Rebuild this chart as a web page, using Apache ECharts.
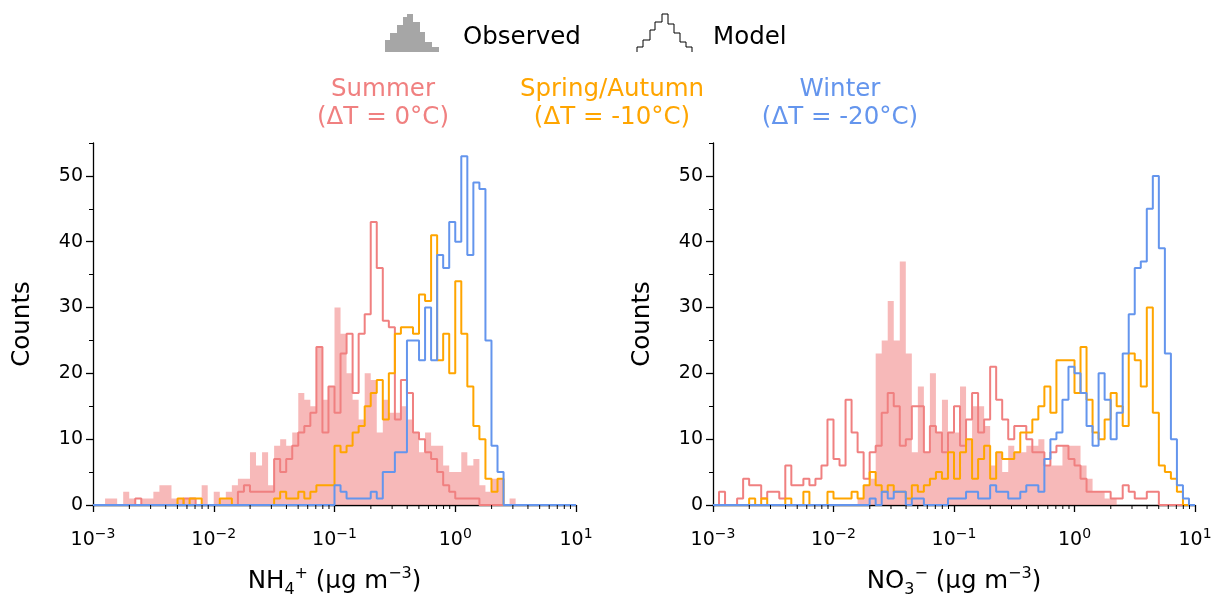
<!DOCTYPE html>
<html><head><meta charset="utf-8">
<script src="https://cdn.jsdelivr.net/npm/echarts@6/dist/echarts.min.js"></script>
<style>html,body{margin:0;padding:0;background:#fff}#c{width:1217px;height:599px}</style>
</head><body><div id="c"></div>
<script>
// ---------- data ----------
const LOG_MIN = -3, LOG_MAX = 1, BIN_WIDTH = 0.05;   // log10 bin grid
const xTickExponents = [-3, -2, -1, 0, 1];
const yTickLabels = [0, 10, 20, 30, 40, 50];
const yMinorTicks = [5, 15, 25, 35, 45, 55];
const seasonNames = ['Summer', 'Spring/Autumn', 'Winter'];
const seasonDeltaT = ['(ΔT = 0°C)', '(ΔT = -10°C)', '(ΔT = -20°C)'];
const legendNames = ['Observed', 'Model'];

const nh4Observed = [0,0,1,1,0,2,1,0,1,1, 2,3,3,1,1,1,1,0,3,0, 2,1,2,3,4,4,8,6,8,3, 9,10,9,11,17,16,15,24,16,18,
  30,26,20,16,13,20,19,11,16,14, 14,15,13,11,8,11,9,9,6,5, 5,8,6,7,3,2,4,4,0,1, 0,0,0,0,0,0,0,0,0,0];
const nh4Summer = [0,0,0,0,0,0,0,1,0,0, 0,0,0,0,0,1,1,0,0,0, 0,0,0,0,2,3,2,2,2,2, 7,5,7,9,11,12,14,24,11,18,
  14,23,26,17,26,29,43,36,28,27, 13,19,17,11,10,8,7,5,3,2, 1,1,1,1,0,0,0,0,0,0, 0,0,0,0,0,0,0,0,0,0];
const nh4Spring = [0,0,0,0,0,0,0,0,0,0, 0,0,0,0,1,0,1,1,0,0, 0,1,1,0,0,0,0,0,0,0, 1,2,1,1,2,1,2,3,3,3,
  9,8,9,11,12,15,17,19,13,20, 26,27,27,26,32,31,41,22,26,20, 34,26,18,12,10,4,2,4,0,0, 0,0,0,0,0,0,0,0,0,0];
const nh4Winter = [0,0,0,0,0,0,0,0,0,0, 0,0,0,0,0,0,0,0,0,0, 0,0,0,0,0,0,0,0,0,0, 0,0,0,0,0,0,0,0,0,0,
  3,2,1,1,1,1,2,1,5,5, 8,8,25,25,22,30,22,38,36,43, 40,53,38,49,48,25,9,5,0,0, 0,0,0,0,0,0,0,0,0,0];

const no3Observed = [0,0,0,0,0,0,0,0,0,0, 0,0,0,0,0,0,0,0,0,0, 0,0,0,0,1,3,4,23,25,31, 25,37,23,8,18,8,20,11,16,11,
  11,18,10,15,15,12,6,8,5,9, 8,8,9,9,10,6,6,6,9,9, 9,6,4,2,2,1,1,0,0,0, 0,0,0,0,0,0,0,0,0,0];
const no3Summer = [0,2,0,0,1,4,3,3,1,2, 2,1,6,3,3,4,3,4,6,13, 7,6,16,11,8,4,8,9,14,17, 15,9,10,15,15,8,12,11,8,11,
  15,9,13,17,11,13,21,16,13,10, 12,12,10,8,8,6,8,9,9,7, 6,4,2,2,2,2,1,1,3,2, 1,1,2,2,0,0,0,0,0,0];
const no3Spring = [0,0,0,0,0,0,1,0,1,0, 0,0,1,0,0,2,0,0,0,2, 1,1,1,2,1,3,5,3,2,3, 2,2,1,3,2,3,4,5,4,8,
  4,8,10,4,7,9,4,8,7,7, 8,11,11,13,15,18,14,22,22,22, 17,24,16,11,10,13,17,15,12,23, 22,18,30,14,6,5,4,2,0,0];
const no3Winter = [0,0,0,0,0,0,0,0,0,0, 0,0,0,0,0,0,0,0,0,0, 0,0,0,0,0,0,1,0,2,1, 2,2,0,1,1,0,0,0,0,1,
  1,1,2,2,1,1,3,2,2,1, 1,2,3,3,2,7,10,11,16,21, 20,17,12,9,20,16,10,14,23,29, 36,37,45,50,39,23,10,3,1,0];

// ---------- styles ----------
const FONT = 'DejaVu Sans';
const BIG = 24.5, TICK = 19;
const C_SUMMER = '#F08080', C_SPRING = '#FFA500', C_WINTER = '#6495ED';
const C_OBS = 'rgba(240,128,128,0.55)';

function stepPoints(counts) {
  const pts = [[LOG_MIN, 0]];
  counts.forEach((c, i) => {
    const a = LOG_MIN + i * BIN_WIDTH;
    pts.push([a, c], [a + BIN_WIDTH, c]);
  });
  pts.push([LOG_MIN + counts.length * BIN_WIDTH, 0]);
  return pts;
}
// log-axis minor tick positions (2..9 x 10^n)
const minorX = [];
for (let n = LOG_MIN; n < LOG_MAX; n++) for (let k = 2; k <= 9; k++) minorX.push(n + Math.log10(k));

const lineCol = '#000';
function xAxis(gi, nameRich) {
  return {
    type: 'value', gridIndex: gi, min: LOG_MIN, max: LOG_MAX, interval: 1, position: 'bottom',
    axisLine: { show: true, onZero: false, lineStyle: { color: lineCol, width: 1.3 } },
    axisTick: { show: true, length: 7, lineStyle: { color: lineCol, width: 1.3 } },
    splitLine: { show: false },
    axisLabel: {
      margin: 22, color: '#000',
      formatter: v => '{b|10}{s|' + (v < 0 ? '\u2212' + (-v) : v) + '}',
      rich: {
        b: { fontFamily: FONT, fontSize: TICK, color: '#000', lineHeight: 26 },
        s: { fontFamily: FONT, fontSize: 14, color: '#000', lineHeight: 14, verticalAlign: 'top' }
      }
    },
    name: nameRich, nameLocation: 'middle', nameGap: 61,
    nameTextStyle: {
      fontFamily: FONT, fontSize: BIG, color: '#000', lineHeight: 32,
      rich: {
        t: { fontFamily: FONT, fontSize: BIG, color: '#000', lineHeight: 32 },
        sup: { fontFamily: FONT, fontSize: 16, color: '#000', lineHeight: 16, verticalAlign: 'top' },
        sub: { fontFamily: FONT, fontSize: 16, color: '#000', lineHeight: 15, verticalAlign: 'bottom' }
      }
    }
  };
}
function yAxes(gi) {
  return [{
    type: 'value', gridIndex: gi, min: 0, max: 55, interval: 5, position: 'left',
    axisLine: { show: true, onZero: false, lineStyle: { color: lineCol, width: 1.3 } },
    axisTick: { show: true, length: 7, customValues: yTickLabels, lineStyle: { color: lineCol, width: 1.3 } },
    axisLabel: { show: true, customValues: yTickLabels, margin: 10, fontFamily: FONT, fontSize: TICK, color: '#000' },
    splitLine: { show: false },
    name: 'Counts', nameLocation: 'middle', nameGap: 58, nameRotate: 90,
    nameTextStyle: { fontFamily: FONT, fontSize: BIG, color: '#000' }
  }, {
    type: 'value', gridIndex: gi, min: 0, max: 55, position: 'left',
    axisLine: { show: false, onZero: false }, splitLine: { show: false }, axisLabel: { show: false },
    axisTick: { show: true, length: 4, customValues: yMinorTicks, lineStyle: { color: lineCol, width: 1 } }
  }];
}
function panelSeries(xi, yi, obs, su, sp, wi) {
  const base = { type: 'line', xAxisIndex: xi, yAxisIndex: yi, symbol: 'none', showSymbol: false, clip: false, animation: false, silent: true };
  return [
    Object.assign({}, base, { name: 'Observed', data: stepPoints(obs), lineStyle: { width: 0, color: C_OBS }, itemStyle: { color: C_OBS }, areaStyle: { color: C_OBS, opacity: 1 } }),
    Object.assign({}, base, { name: seasonNames[0], data: stepPoints(su), lineStyle: { width: 2, color: C_SUMMER }, itemStyle: { color: C_SUMMER } }),
    Object.assign({}, base, { name: seasonNames[1], data: stepPoints(sp), lineStyle: { width: 2, color: C_SPRING }, itemStyle: { color: C_SPRING } }),
    Object.assign({}, base, { name: seasonNames[2], data: stepPoints(wi), lineStyle: { width: 2, color: C_WINTER }, itemStyle: { color: C_WINTER } }),
    {
      type: 'custom', xAxisIndex: xi, yAxisIndex: yi, silent: true, clip: false, z: 5, animation: false,
      data: minorX.map(v => [v, 0]),
      renderItem: (params, api) => {
        const p = api.coord([api.value(0), 0]);
        return { type: 'line', shape: { x1: p[0], y1: p[1], x2: p[0], y2: p[1] + 4 }, style: { stroke: '#000', lineWidth: 1 } };
      }
    }
  ];
}

const chart = echarts.init(document.getElementById('c'), null, { renderer: 'canvas' });
const titleColors = [C_SUMMER, C_SPRING, C_WINTER];
const titleX = [383, 612, 840];
const graphics = [];
seasonNames.forEach((s, i) => {
  graphics.push({
    type: 'text', x: titleX[i], y: 104, silent: true,
    style: { text: s + '\n' + seasonDeltaT[i], fill: titleColors[i], font: BIG + 'px "DejaVu Sans"',
             align: 'center', verticalAlign: 'middle', textAlign: 'center', textVerticalAlign: 'middle', lineHeight: 28 }
  });
});
// legend glyphs
graphics.push({
  type: 'polygon', silent: true,
  shape: { points: [[385,52],[385,40],[390,40],[390,33],[397,33],[397,25],[403,25],[403,17],[407,17],[407,14],[413,14],[413,22],[420,22],[420,32],[425,32],[425,42],[432,42],[432,47],[439,47],[439,52]] },
  style: { fill: '#A6A6A6' }
});
graphics.push({
  type: 'polyline', silent: true,
  shape: { points: [[637,52],[637,47],[643,47],[643,40],[650,40],[650,30],[655,30],[655,22],[662,22],[662,14],[668,14],[668,24],[674,24],[674,33],[680,33],[680,42],[686,42],[686,47],[692,47],[692,52]] },
  style: { stroke: '#000', lineWidth: 1, fill: null }
});
graphics.push({ type: 'text', x: 463, y: 38, silent: true,
  style: { text: legendNames[0], fill: '#000', font: BIG + 'px "DejaVu Sans"', verticalAlign: 'middle', textVerticalAlign: 'middle' } });
graphics.push({ type: 'text', x: 713, y: 38, silent: true,
  style: { text: legendNames[1], fill: '#000', font: BIG + 'px "DejaVu Sans"', verticalAlign: 'middle', textVerticalAlign: 'middle' } });

const option = {
  animation: false,
  backgroundColor: '#fff',
  grid: [
    { left: 93, top: 143, width: 483, height: 362, containLabel: false, outerBoundsMode: 'none' },
    { left: 713, top: 143, width: 482, height: 362, containLabel: false, outerBoundsMode: 'none' }
  ],
  xAxis: [
    xAxis(0, '{t|NH}{sub|4}{sup|+}{t| (μg m}{sup|\u22123}{t|)}'),
    xAxis(1, '{t|NO}{sub|3}{sup|\u2212}{t| (μg m}{sup|\u22123}{t|)}')
  ],
  yAxis: [].concat(yAxes(0), yAxes(1)),
  series: [].concat(
    panelSeries(0, 0, nh4Observed, nh4Summer, nh4Spring, nh4Winter),
    panelSeries(1, 2, no3Observed, no3Summer, no3Spring, no3Winter)
  ),
  graphic: graphics
};
chart.setOption(option);
</script></body></html>
